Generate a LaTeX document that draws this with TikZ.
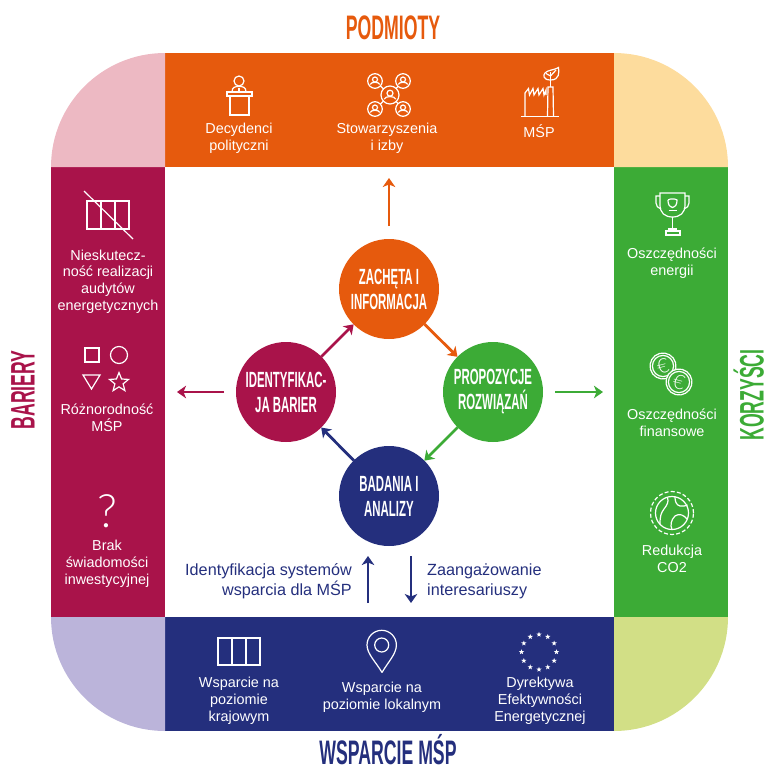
\documentclass[tikz,border=0pt]{standalone}
\usepackage{fontspec}
\setmainfont{Liberation Sans}
\newfontfamily\headfont[FakeStretch=0.52]{Liberation Sans}
\newfontfamily\thinfont{Lato Light}
\usetikzlibrary{shapes.geometric}
\usetikzlibrary{arrows.meta}
\definecolor{orangeband}{HTML}{E65A0D}
\definecolor{maroonband}{HTML}{A9134A}
\definecolor{greenband}{HTML}{3CAB36}
\definecolor{navyband}{HTML}{242F7D}
\definecolor{pinkcorner}{HTML}{EDB9C3}
\definecolor{yellowcorner}{HTML}{FDDC9D}
\definecolor{lilaccorner}{HTML}{BBB4DA}
\definecolor{limecorner}{HTML}{D2DF86}
\begin{document}
\begin{tikzpicture}[x=1pt,y=1pt]
	\tikzstyle{headtext}=[inner sep=0pt,font=\headfont\bfseries\fontsize{34}{34}\selectfont]
	\tikzstyle{bodytext}=[inner sep=0pt,yshift=-1.5pt,align=center,text=white,font=\fontsize{14.4}{16.8}\selectfont]
	\tikzstyle{sidetext}=[inner sep=0pt,yshift=-1.5pt,text=navyband,font=\fontsize{16.2}{20}\selectfont]
	\tikzstyle{roundnode}=[circle,minimum size=100pt,inner sep=0pt,outer sep=0pt,align=center,text=white,font=\headfont\bfseries\fontsize{22}{25}\selectfont]
	\tikzstyle{arrowline}=[line width=2.8pt,-{Stealth[length=9pt,width=12.5pt,inset=2.5pt]}]
	\tikzstyle{iconline}=[white,line width=1.2pt]
	\tikzstyle{iconnode}=[draw=white,line width=1.2pt,inner sep=0pt,outer sep=0pt]
	\useasboundingbox (0,0) rectangle (771,-772);
	\fill [orangeband] (165,-53) rectangle (614,-167);
	\fill [maroonband] (51,-167) rectangle (165,-617);
	\fill [greenband] (614,-167) rectangle (728,-617);
	\fill [navyband] (165,-617) rectangle (614,-731);
	\fill [pinkcorner] (51,-167) arc (180:90:114) -- (165,-167) -- cycle;
	\fill [yellowcorner] (614,-53) arc (90:0:114) -- (614,-167) -- cycle;
	\fill [lilaccorner] (51,-617) arc (180:270:114) -- (165,-617) -- cycle;
	\fill [limecorner] (728,-617) arc (0:-90:114) -- (614,-617) -- cycle;
	\node [headtext,text=orangeband] (podmioty) at (393,-28) {PODMIOTY};
	\node [headtext,text=navyband,anchor=base] (wsparcie) at (388,-764.5) {WSPARCIE MŚP};
	\node [headtext,text=maroonband,rotate=90] (bariery) at (23,-390) {BARIERY};
	\node [headtext,text=greenband,rotate=90,anchor=base] (korzysci) at (763.5,-395) {KORZYŚCI};
	\node [roundnode,fill=orangeband] (zacheta) at (389,-289) {ZACHĘTA I\\INFORMACJA};
	\node [roundnode,fill=maroonband] (identyfikacja) at (286,-392) {IDENTYFIKAC-\\JA BARIER};
	\node [roundnode,fill=greenband] (propozycje) at (493,-392) {PROPOZYCJE\\ROZWIĄZAŃ};
	\node [roundnode,fill=navyband] (badania) at (389,-496) {BADANIA I\\ANALIZY};
	\draw [arrowline,orangeband] (zacheta) -- (propozycje);
	\draw [arrowline,greenband] (propozycje) -- (badania);
	\draw [arrowline,navyband] (badania) -- (identyfikacja);
	\draw [arrowline,maroonband] (identyfikacja) -- (zacheta);
	\coordinate (podmiotytip) at (389,-178);
	\coordinate (barierytip) at (177,-392);
	\coordinate (korzyscitip) at (603,-392);
	\coordinate (upstart) at (368,-603);
	\coordinate (uptip) at (368,-556);
	\coordinate (downstart) at (411,-556);
	\coordinate (downtip) at (411,-603);
	\draw [arrowline,orangeband,shorten <=13pt] (zacheta) -- (podmiotytip);
	\draw [arrowline,maroonband,shorten <=12pt] (identyfikacja) -- (barierytip);
	\draw [arrowline,greenband,shorten <=12pt] (propozycje) -- (korzyscitip);
	\draw [arrowline,navyband] (upstart) -- (uptip);
	\draw [arrowline,navyband] (downstart) -- (downtip);
	\node [sidetext,anchor=east,align=right] (systemy) at (352,-580) {Identyfikacja systemów\\wsparcia dla MŚP};
	\node [sidetext,anchor=west,align=left] (interesariusze) at (427,-580) {Zaangażowanie\\interesariuszy};
	\node [bodytext] (decydenci) at (239,-136.5) {Decydenci\\polityczni};
	\node [bodytext] (stowarzyszenia) at (387,-136.5) {Stowarzyszenia\\i izby};
	\node [bodytext] (msp) at (539,-130) {MŚP};
	\node [bodytext] (audyty) at (108,-280) {Nieskutecz-\\ność realizacji\\audytów\\energetycznych};
	\node [bodytext] (roznorodnosc) at (107,-416.5) {Różnorodność\\MŚP};
	\node [bodytext] (brak) at (107,-562) {Brak\\świadomości\\inwestycyjnej};
	\node [bodytext] (energia) at (672,-262) {Oszczędności\\energii};
	\node [bodytext] (finanse) at (672,-421.5) {Oszczędności\\finansowe};
	\node [bodytext] (redukcja) at (672,-557.5) {Redukcja\\CO2};
	\node [bodytext] (krajowy) at (239,-699) {Wsparcie na\\poziomie\\krajowym};
	\node [bodytext] (lokalny) at (382,-695.5) {Wsparcie na\\poziomie lokalnym};
	\node [bodytext] (dyrektywa) at (540,-699) {Dyrektywa\\Efektywności\\Energetycznej};
	\draw [iconline] (239,-81) circle (5);
	\draw [iconline] (232,-92) .. controls (232,-87) and (235,-86.5) .. (239,-86.5) .. controls (243,-86.5) and (246,-87) .. (246,-92);
	\draw [iconline] (239,-88) -- (239,-91);
	\draw [iconline] (227,-92) rectangle (252,-96);
	\draw [iconline] (230,-96) rectangle (249,-115);
	\node [iconnode,circle,minimum size=18pt] (nethub) at (390,-95) {};
	\foreach \n/\px/\py in {a/375/-81,b/403/-81,c/375/-109,d/403/-109} {
		\node [iconnode,circle,minimum size=14.6pt] (net\n) at (\px,\py) {};
		\draw [iconline] (nethub) -- (net\n);
		\begin{scope}[shift={(\px,\py)}]
			\draw [iconline] (0,1.5) circle (2.5);
			\draw [iconline] (-4.8,-3.4) .. controls (-4,-0.6) and (4,-0.6) .. (4.8,-3.4);
		\end{scope}
	}
	\begin{scope}[shift={(390,-95)},scale=1.2]
		\draw [iconline] (0,1.5) circle (2.5);
		\draw [iconline] (-4.8,-3.4) .. controls (-4,-0.6) and (4,-0.6) .. (4.8,-3.4);
	\end{scope}
	\draw [iconline] (521,-116.5) -- (559,-116.5);
	\draw [iconline] (525,-116.5) -- (525,-93) -- (528.5,-88.5) -- (529.5,-95) -- (533,-88.5) -- (534,-95) -- (538,-88.5) -- (539,-95) -- (543,-88.5) -- (544,-95) -- (546,-90) -- (546,-95);
	\draw [iconline] (547.5,-116.5) -- (548,-87) -- (553,-87) -- (553.5,-116.5);
	\draw [iconline] (550.5,-87) -- (550.5,-72);
	\draw [iconline] (550.5,-80) .. controls (543,-80) and (543,-75) .. (545,-73) .. controls (547,-70) and (555,-70) .. (558.5,-67.5) .. controls (559,-72) and (560,-80) .. (550.5,-80);
	\draw [iconline] (550.5,-76) -- (546,-73.5);
	\draw [iconline] (550.5,-76) -- (556,-70);
	\draw [iconline] (660,-193) -- (685,-193) -- (685,-205) .. controls (685,-213) and (680,-217) .. (672.5,-217) .. controls (665,-217) and (660,-213) .. (660,-205) -- cycle;
	\draw [iconline] (660,-196) -- (656,-196) -- (656,-203) .. controls (656,-206) and (658,-208) .. (661,-209);
	\draw [iconline] (685,-196) -- (689,-196) -- (689,-203) .. controls (689,-206) and (687,-208) .. (684,-209);
	\draw [iconline] (672.5,-217) -- (672.5,-229);
	\draw [iconline] (669,-231) -- (669,-229) -- (676,-229) -- (676,-231);
	\draw [iconline] (666,-231) rectangle (680,-235);
	\draw [iconline] (668,-200) .. controls (670,-198.5) and (675,-198.5) .. (677,-200) .. controls (677,-204) and (676,-206.5) .. (672.5,-207.5) .. controls (669,-206.5) and (668,-204) .. (668,-200);
	\draw [iconline] (668.5,-210.5) -- (676.5,-210.5);
	\node [iconnode,fill=greenband,circle,minimum size=26pt,text=white,rotate=15,font=\thinfont\fontsize{20}{20}\selectfont] (coina) at (663,-366) {€};
	\draw [iconline] (coina) circle (10.6);
	\node [iconnode,fill=greenband,circle,minimum size=26pt,text=white,rotate=-15,font=\thinfont\fontsize{20}{20}\selectfont] (coinb) at (679,-382) {€};
	\draw [iconline] (coinb) circle (10.6);
	\draw [iconline,dash pattern=on 4pt off 2.2pt] (672,-513) circle (21.5);
	\draw [iconline] (672,-513) circle (16.5);
	\draw [iconline] (667.5,-497.5) .. controls (669,-502) and (667,-505) .. (664,-509) .. controls (661,-513) and (660,-516) .. (660,-524);
	\draw [iconline] (675,-497) .. controls (675,-501) and (676,-505) .. (680,-506) .. controls (683,-506.5) and (685,-506) .. (687.5,-505);
	\draw [iconline] (672,-529.5) .. controls (670,-525) and (671,-520) .. (675,-516) .. controls (679,-513) and (684,-515) .. (687,-519);
	\draw [iconline] (87,-201) rectangle (129,-229);
	\draw [iconline] (101,-201) -- (101,-229);
	\draw [iconline] (115,-201) -- (115,-229);
	\draw [iconline] (84,-191) -- (133,-239);
	\draw [iconline] (85,-348) rectangle (99,-362);
	\node [iconnode,circle,minimum size=17pt] (kolo) at (119,-355) {};
	\draw [iconline] (83,-375) -- (100,-375) -- (91.5,-389) -- cycle;
	\node [iconnode,star,star points=5,star point ratio=2.3,minimum size=20pt] (gwiazda) at (119,-382.5) {};
	\node [inner sep=0pt,text=white,font=\thinfont\fontsize{46}{46}\selectfont] (pytanie) at (107.5,-511) {?};
	\draw [iconline] (218,-638) rectangle (260,-665);
	\draw [iconline] (232,-638) -- (232,-665);
	\draw [iconline] (246,-638) -- (246,-665);
	\draw [iconline] (382,-672.5) .. controls (376,-662) and (367,-654) .. (367,-645) arc (180:0:14.7) .. controls (396.4,-654) and (388,-662) .. (382,-672.5);
	\draw [iconline] (381.7,-645) circle (7);
	\foreach \a in {0,30,...,330} {
		\path (539,-652) ++(\a:17.5) node [star,star points=5,star point ratio=2.4,fill=white,inner sep=0pt,minimum size=5.5pt] (eu\a) {};
	}
\end{tikzpicture}
\end{document}
